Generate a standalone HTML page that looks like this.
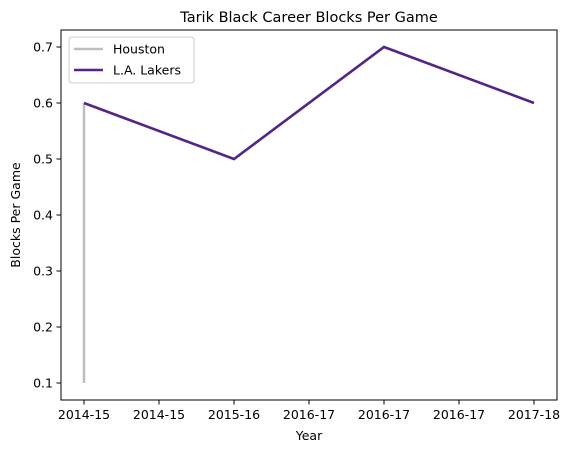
<!DOCTYPE html>
<html><head><meta charset="utf-8"><style>body{margin:0;background:#fff}svg{display:block;font-family:"DejaVu Sans","Liberation Sans",sans-serif}</style></head>
<body>
<svg id="c" width="573" height="453"></svg>
<script>
const categories=["2014-15","2014-15","2015-16","2016-17","2016-17","2016-17","2017-18"];
const tickPositions=[0,0.5,1,1.5,2,2.5,3];
const lakersX=[0,1,2,3];
const lakersY=[0.6,0.5,0.7,0.6];
const houstonX=[0,0];
const houstonY=[0.1,0.6];
const yTicks=[0.1,0.2,0.3,0.4,0.5,0.6,0.7];
const NS="http://www.w3.org/2000/svg";
const svg=document.getElementById('c');
const L=61,R=557,T=30,B=400;
const xs=v=>84+v*150;
const ys=v=>383-(v-0.1)*560;
function mk(t,a,txt){const e=document.createElementNS(NS,t);for(const k in a)e.setAttribute(k,a[k]);if(txt!==undefined)e.textContent=txt;svg.appendChild(e);return e;}
let t=mk('text',{x:309,y:22,'text-anchor':'middle','font-size':14.5},'Tarik Black Career Blocks Per Game');


tickPositions.forEach((p,i)=>{
 let l=mk('line',{x1:xs(p),x2:xs(p),y1:B,y2:B+4.5,stroke:'#000'});
 
 
 let tx=mk('text',{x:xs(p),y:B+19,'text-anchor':'middle','font-size':12.5},categories[i]);
 
 
});
yTicks.forEach(v=>{
 let l=mk('line',{x1:L-4.5,x2:L,y1:ys(v),y2:ys(v),stroke:'#000'});
 
 
 let tx=mk('text',{x:L-8,y:ys(v)+4.5,'text-anchor':'end','font-size':12.5},v.toFixed(1));
 
 
});
let xt=mk('text',{x:309,y:440,'text-anchor':'middle','font-size':12.5},'Year');


let yt=mk('text',{x:20,y:215,'text-anchor':'middle','font-size':12.5,transform:'rotate(-90 20 215)'},'Blocks Per Game');


let h=mk('polyline',{points:houstonX.map((x,i)=>xs(x)+','+ys(houstonY[i])).join(' '),fill:'none',stroke:'#bfbfbf','stroke-width':2.6});


let lk=mk('polyline',{points:lakersX.map((x,i)=>xs(x)+','+ys(lakersY[i])).join(' '),fill:'none',stroke:'#552583','stroke-width':2.6});


let fr=mk('rect',{x:L,y:T,width:R-L,height:B-T,fill:'none',stroke:'#000','stroke-width':1});


let lg=mk('rect',{x:69,y:37,width:125,height:46,fill:'#fff','fill-opacity':0.8,stroke:'#ccc',rx:3});


[['Houston','#bfbfbf',49],['L.A. Lakers','#552583',70]].forEach(([n,c,y])=>{
 let l=mk('line',{x1:74,x2:103,y1:y,y2:y,stroke:c,'stroke-width':2.6});
 
 
 let tx=mk('text',{x:113,y:y+4.5,'font-size':12.5},n);
 
 
});
</script>
</body></html>
